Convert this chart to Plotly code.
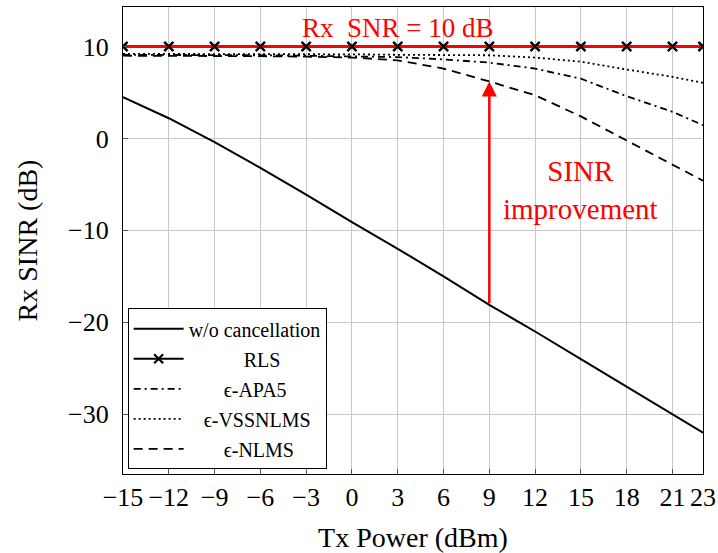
import plotly.graph_objects as go

tx_power = [-15, -12, -9, -6, -3, 0, 3, 6, 9, 12, 15, 18, 21, 23]
wo_cancel = [4.5, 2.2, -0.4, -3.2, -6.1, -9.1, -12.0, -15.0, -18.1, -21.0, -24.0, -27.0, -30.0, -32.0]
rls = [10, 10, 10, 10, 10, 10, 10, 10, 10, 10, 10, 10, 10, 10]
apa5 = [9.1, 9.1, 9.1, 9.05, 9.0, 8.95, 8.85, 8.6, 8.25, 7.6, 6.5, 4.6, 2.9, 1.45]
vssnlms = [9.2, 9.2, 9.2, 9.2, 9.15, 9.15, 9.1, 9.1, 9.05, 8.8, 8.35, 7.5, 6.7, 6.05]
nlms = [9.0, 9.0, 9.0, 8.95, 8.9, 8.8, 8.5, 7.6, 6.2, 4.7, 2.4, -0.2, -2.8, -4.6]

snr_level = 10
arrow_x = 9
arrow_from = -18.1
arrow_to = 6.2

xticks = [-15, -12, -9, -6, -3, 0, 3, 6, 9, 12, 15, 18, 21, 23]
yticks = [-30, -20, -10, 0, 10]

FONT = "Liberation Serif, Times New Roman, serif"
NB = "\u00a0"

fig = go.Figure()
fig.add_trace(go.Scatter(x=tx_power, y=wo_cancel, mode="lines", name="w/o cancellation", legendgroup="a",
                         line=dict(color="black", width=2)))
fig.add_trace(go.Scatter(x=tx_power, y=rls, mode="lines+markers", name=NB * 11 + "RLS", legendgroup="b",
                         line=dict(color="black", width=2),
                         marker=dict(symbol="x-thin", size=9, line=dict(color="black", width=2.2))))
fig.add_trace(go.Scatter(x=tx_power, y=apa5, mode="lines", name=NB * 7 + "ϵ-APA5", legendgroup="c",
                         line=dict(color="black", width=1.8, dash="7px,4px,2px,4px")))
fig.add_trace(go.Scatter(x=tx_power, y=vssnlms, mode="lines", name=NB * 3 + "ϵ-VSSNLMS", legendgroup="d",
                         line=dict(color="black", width=1.8, dash="2px,3px")))
fig.add_trace(go.Scatter(x=tx_power, y=nlms, mode="lines", name=NB * 7 + "ϵ-NLMS", legendgroup="e",
                         line=dict(color="black", width=1.8, dash="9px,6px")))
# red SNR reference line
fig.add_trace(go.Scatter(x=[tx_power[0], tx_power[-1]], y=[snr_level, snr_level], mode="lines",
                         showlegend=False, line=dict(color="red", width=3), hoverinfo="skip"))
# RLS markers redrawn on top of red line
fig.add_trace(go.Scatter(x=tx_power, y=rls, mode="markers", showlegend=False,
                         marker=dict(symbol="x-thin", size=9, line=dict(color="black", width=2.2)),
                         hoverinfo="skip"))

fig.add_annotation(x=arrow_x, y=arrow_to, ax=arrow_x, ay=arrow_from, xref="x", yref="y",
                   axref="x", ayref="y", showarrow=True, arrowhead=2, arrowsize=1.2,
                   arrowwidth=2.5, arrowcolor="red", text="")
fig.add_annotation(x=3, y=12.0, xref="x", yref="y", text="Rx  SNR = 10 dB", showarrow=False,
                   font=dict(family=FONT, size=27, color="red"))
fig.add_annotation(x=15, y=-5.6, xref="x", yref="y", text="SINR<br>improvement", showarrow=False,
                   font=dict(family=FONT, size=29, color="red"))

axis_common = dict(showline=True, linecolor="black", linewidth=1.2, mirror=True,
                   showgrid=True, gridcolor="#c8c8c8", gridwidth=1,
                   ticks="inside", ticklen=5, tickcolor="#555555", automargin=False,
                   tickfont=dict(family=FONT, size=26, color="black"), zeroline=False)

fig.update_xaxes(range=[-15, 23], tickvals=xticks,
                 title=dict(text="Tx Power (dBm)", font=dict(family=FONT, size=28, color="black"), standoff=18),
                 **axis_common)
fig.update_yaxes(range=[-36.5, 14.3], tickvals=yticks, ticklabelstandoff=8,
                 title=dict(text="Rx SINR (dB)", font=dict(family=FONT, size=28, color="black"), standoff=22),
                 **axis_common)

fig.update_layout(
    width=718, height=553,
    font=dict(family=FONT, color="black"),
    margin=dict(l=123, r=15, t=7, b=79),
    plot_bgcolor="white", paper_bgcolor="white",
    legend=dict(x=0.008, y=0.01, xanchor="left", yanchor="bottom",
                bgcolor="white", bordercolor="black", borderwidth=1,
                font=dict(family=FONT, size=20, color="black"),
                tracegroupgap=1, itemwidth=50),
    showlegend=True,
)

fig.write_html("out.html")
